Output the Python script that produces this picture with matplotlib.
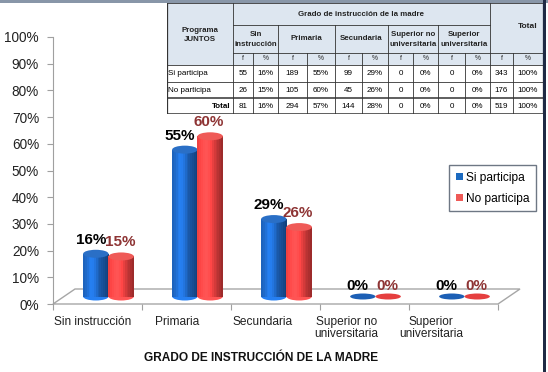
import numpy as np
import matplotlib.pyplot as plt
import matplotlib.transforms as mtransforms
from matplotlib.patches import Ellipse, Polygon, Rectangle, Patch

# data
categorias = ['Sin instrucción', 'Primaria', 'Secundaria', 'Superior no\nuniversitaria', 'Superior\nuniversitaria']
si_participa = [0.16, 0.55, 0.29, 0.0, 0.0]
no_participa = [0.15, 0.60, 0.26, 0.0, 0.0]
series_names = ['Si participa', 'No participa']

# table data
grupos = ['Sin\ninstrucción', 'Primaria', 'Secundaria', 'Superior no\nuniversitaria', 'Superior\nuniversitaria']
filas = ['Si participa', 'No participa', 'Total']
tabla_f = [[55, 189, 99, 0, 0, 343],
           [26, 105, 45, 0, 0, 176],
           [81, 294, 144, 0, 0, 519]]
tabla_p = [['16%', '55%', '29%', '0%', '0%', '100%'],
           ['15%', '60%', '26%', '0%', '0%', '100%'],
           ['16%', '57%', '28%', '0%', '0%', '100%']]

plt.rcParams['font.family'] = ['Liberation Sans', 'DejaVu Sans']

W, H = 548, 372
fig = plt.figure(figsize=(W / 100, H / 100), dpi=100)
fig.patch.set_facecolor('white')

# plot area in pixels: x 53..498, y 37..304
ax = fig.add_axes([53 / W, 1 - 304 / H, 445 / W, 267 / H])
ax.set_xlim(0, 5)
ax.set_ylim(0, 1)
ax.patch.set_alpha(0)
for s in ['top', 'right', 'bottom']:
    ax.spines[s].set_visible(False)
ax.spines['left'].set_color('#a0a0a0')
ax.set_yticks(np.arange(0, 1.01, 0.1))
ax.set_yticklabels([f'{int(v * 100)}%' for v in np.arange(0, 1.01, 0.1)], fontsize=9.8,
                   color='#222222')
ax.tick_params(axis='y', length=4, color='#a0a0a0', pad=6)

# category ticks at boundaries, labels near centres (shifted by perspective)
ax.set_xticks(np.arange(0, 5.01, 1))
ax.set_xticklabels([])
ax.tick_params(axis='x', length=4, color='#a0a0a0', direction='out')
for i, lab in enumerate(categorias):
    ax.text(i + 0.5 - 0.05 * (i + 1), -0.045, lab, ha='center', va='top', fontsize=8.6,
            color='#222222', linespacing=1.05)
ax.text(2.34, -0.18, 'GRADO DE INSTRUCCIÓN DE LA MADRE', ha='center', va='top',
        fontsize=8.6, fontweight='bold', color='#111111')

# 3D floor (depth 22px right, 15px up)
dx, dy = 22 / 89, 15 / 267
floor = Polygon([(0, 0), (5, 0), (5 + dx, dy), (dx, dy)], closed=True,
                facecolor='white', edgecolor='#a6a6a6', lw=1.0, clip_on=False, zorder=1)
ax.add_patch(floor)
mid = mtransforms.offset_copy(ax.transData, fig=fig, x=11, y=7.5, units='dots')


def shade(base, k, n):
    base = np.array(plt.matplotlib.colors.to_rgb(base))
    t = (k + 0.5) / n
    f = 1.0 + 0.35 * np.exp(-((t - 0.35) / 0.22) ** 2) - 0.35 * t ** 3
    return np.clip(base * f, 0, 1)


bw = 0.285
eh = 8 / 267
colores = ['#1c5fb5', '#e53f3f']
tops = ['#2a6fc6', '#ef5a57']
lab_col = ['#000000', '#8e3434']
lab_dx = [-5, -1]
nstrip = 14
for j, vals in enumerate([si_participa, no_participa]):
    for i, v in enumerate(vals):
        cx = i + 0.5 + (j - 0.5) * bw
        if v > 0:
            ax.add_patch(Ellipse((cx, 0), bw, eh, facecolor=shade(colores[j], 3, 10),
                                 edgecolor='none', transform=mid, zorder=3 + j))
            xs = cx - bw / 2 + (np.arange(nstrip) + 0.5) * bw / nstrip
            for k in range(nstrip):
                ax.bar(xs[k], v, width=bw / nstrip * 1.05, color=shade(colores[j], k, nstrip),
                       transform=mid, zorder=3 + j, linewidth=0)
            ax.add_patch(Ellipse((cx, v), bw, eh, facecolor=tops[j], edgecolor='none',
                                 transform=mid, zorder=3 + j))
            ty = v + eh / 2
        else:
            ax.add_patch(Ellipse((cx, 0), bw, 6 / 267, facecolor=colores[j], edgecolor='none',
                                 transform=mid, zorder=3 + j))
            ty = 0.0
        tt = mtransforms.offset_copy(ax.transData, fig=fig, x=11 + lab_dx[j], y=7.5 + 3,
                                     units='dots')
        ax.text(cx, ty, f'{int(round(v * 100))}%', ha='center', va='bottom', fontsize=11,
                fontweight='bold', color=lab_col[j], transform=tt, zorder=6)

# legend
handles = [Patch(facecolor=c, edgecolor='none') for c in ['#1c6ac0', '#ef5a57']]
leg = fig.legend(handles, series_names, loc='upper left',
                 bbox_to_anchor=(449 / W, 1 - 165 / H), fontsize=8.6, frameon=True,
                 fancybox=False, handlelength=0.6, handleheight=0.6, handletextpad=0.3,
                 borderpad=0.55, labelspacing=0.75, borderaxespad=0)
leg.get_frame().set_edgecolor('#4a5566')
leg.get_frame().set_linewidth(1.0)

# table
cx_edges = [167, 233, 253, 278, 307, 335, 362, 388, 413, 438, 465, 490, 513, 543]
ry = [3, 25, 53, 65, 82, 98, 114]
tax = fig.add_axes([167 / W, 1 - 114 / H, 376 / W, 111 / H])
tax.set_xlim(167, 543)
tax.set_ylim(114, 3)
tax.axis('off')
tax.add_patch(Rectangle((167, 3), 376, 62, facecolor='#dde6f0', edgecolor='none'))
lc = '#333333'
lw = 0.6
# horizontal lines
tax.plot([167, 543], [3, 3], color=lc, lw=1.2)
tax.plot([233, 490], [25, 25], color=lc, lw=lw)
tax.plot([233, 543], [53, 53], color=lc, lw=lw)
for y in [65, 82]:
    tax.plot([167, 543], [y, y], color=lc, lw=lw)
tax.plot([167, 543], [98, 98], color=lc, lw=1.1)
tax.plot([167, 543], [114, 114], color=lc, lw=1.1)
# vertical lines
tax.plot([167, 167], [3, 114], color=lc, lw=0.9)
tax.plot([543, 543], [3, 114], color=lc, lw=0.9)
for k, x in enumerate(cx_edges[1:-1]):
    if k == 0 or k == 10:
        top = 3
    elif k % 2 == 0:
        top = 25
    else:
        top = 53
    tax.plot([x, x], [top, 114], color=lc, lw=lw)
hf = dict(fontsize=5.7, fontweight='bold', color='#222222', ha='center', va='center')
tax.text(200, 35, 'Programa\nJUNTOS', linespacing=1.5, **hf)
tax.text(361.5, 14, 'Grado de instrucción de la madre', **hf)
tax.text(528, 27, 'Total', fontsize=6, fontweight='bold', color='#222222', ha='center',
         va='center')
for g, name in enumerate(grupos):
    x0, x1 = cx_edges[1 + 2 * g], cx_edges[3 + 2 * g]
    tax.text((x0 + x1) / 2, 39, name, linespacing=1.6, **hf)
for c in range(12):
    x0, x1 = cx_edges[1 + c], cx_edges[2 + c]
    tax.text((x0 + x1) / 2, 59, 'f' if c % 2 == 0 else '%', fontsize=4.8, color='#222222',
             ha='center', va='center')
for r, fila in enumerate(filas):
    yc = (ry[3 + r] + ry[4 + r]) / 2
    if fila == 'Total':
        tax.text(231, yc, fila, fontsize=5.8, fontweight='bold', ha='right', va='center')
    else:
        tax.text(168, yc, fila, fontsize=5.8, ha='left', va='center')
    for g in range(6):
        xf = (cx_edges[1 + 2 * g] + cx_edges[2 + 2 * g]) / 2
        xp = (cx_edges[2 + 2 * g] + cx_edges[3 + 2 * g]) / 2
        tax.text(xf, yc, str(tabla_f[r][g]), fontsize=5.8, ha='center', va='center')
        tax.text(xp, yc, tabla_p[r][g], fontsize=5.8, ha='center', va='center')

# frame pieces of the slide
fig.patches.append(Rectangle((0, 1 - 3 / H), 1, 3 / H, transform=fig.transFigure,
                             facecolor='#8896a8', edgecolor='none'))
fig.patches.append(Rectangle((543 / W, 0), 2.5 / W, 1, transform=fig.transFigure,
                             facecolor='#1f2a44', edgecolor='none'))

fig.savefig('out.png', dpi=100)
